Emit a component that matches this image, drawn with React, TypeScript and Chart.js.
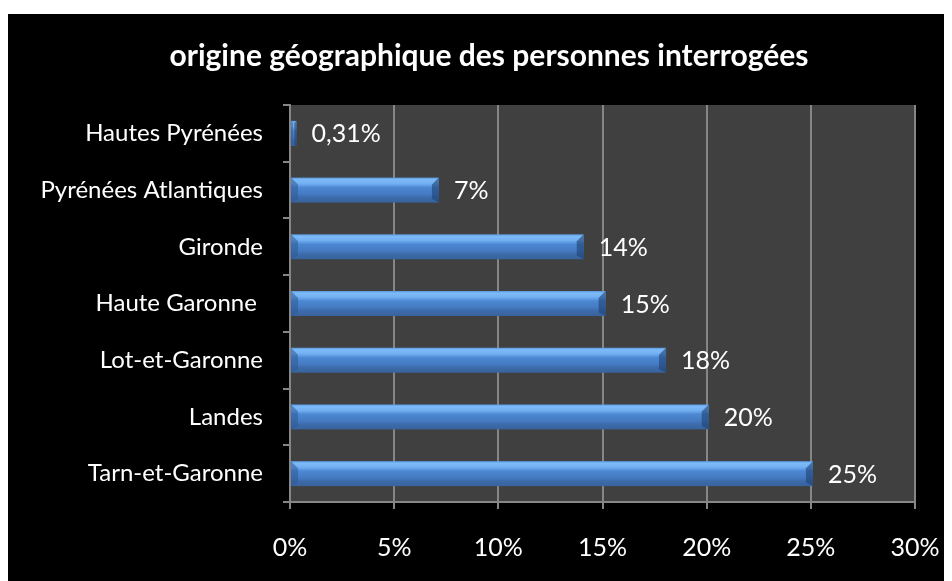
import React, { useEffect, useRef } from "react";
import { Chart, registerables } from "chart.js";

Chart.register(...registerables);

const categories = [
  "Hautes Pyrénées",
  "Pyrénées Atlantiques",
  "Gironde",
  "Haute Garonne ",
  "Lot-et-Garonne",
  "Landes",
  "Tarn-et-Garonne",
];
const values = [0.31, 7.15, 14.1, 15.15, 18.05, 20.1, 25.1];
const valueLabels = ["0,31%", "7%", "14%", "15%", "18%", "20%", "25%"];
const titleText = "origine géographique des personnes interrogées";

const FONT = "Lato, 'Open Sans', sans-serif";

const plotBg = {
  id: "plotBg",
  beforeDraw(chart: any) {
    const { ctx, chartArea } = chart;
    ctx.save();
    ctx.fillStyle = "#404040";
    ctx.fillRect(chartArea.left, chartArea.top, chartArea.right - chartArea.left, chartArea.bottom - chartArea.top);
    ctx.restore();
  },
};

const titlePlugin = {
  id: "customTitle",
  afterDraw(chart: any) {
    const { ctx } = chart;
    ctx.save();
    ctx.fillStyle = "#ffffff";
    ctx.font = `bold 30px ${FONT}`;
    ctx.textAlign = "center";
    ctx.textBaseline = "middle";
    ctx.fillText(titleText, chart.width / 2 + 9, 42);
    ctx.restore();
  },
};

const bevelBars = {
  id: "bevelBars",
  afterDatasetsDraw(chart: any) {
    const { ctx } = chart;
    const meta = chart.getDatasetMeta(0);
    ctx.save();
    meta.data.forEach((el: any, i: number) => {
      const { x, y, base, height } = el.getProps(["x", "y", "base", "height"], true);
      const top = y - height / 2;
      const w = x - base;
      const g = ctx.createLinearGradient(0, top, 0, top + height);
      g.addColorStop(0, "#5a98e0");
      g.addColorStop(0.08, "#7cbaf8");
      g.addColorStop(0.24, "#72b0f2");
      g.addColorStop(0.32, "#5f9ce4");
      g.addColorStop(0.4, "#4c88d2");
      g.addColorStop(0.68, "#4479c0");
      g.addColorStop(0.78, "#3d6cac");
      g.addColorStop(1, "#38639c");
      ctx.fillStyle = g;
      ctx.fillRect(base, top, w, height);
      const bw = Math.min(7, w * 0.4);
      ctx.fillStyle = "rgba(45,90,150,0.55)";
      ctx.beginPath();
      ctx.moveTo(base, top);
      ctx.lineTo(base + bw, top + bw);
      ctx.lineTo(base + bw, top + height - bw * 0.5);
      ctx.lineTo(base, top + height);
      ctx.closePath();
      ctx.fill();
      ctx.fillStyle = "rgba(30,65,115,0.6)";
      ctx.beginPath();
      ctx.moveTo(x - bw, top + bw);
      ctx.lineTo(x, top);
      ctx.lineTo(x, top + height);
      ctx.lineTo(x - bw, top + height - bw * 0.5);
      ctx.closePath();
      ctx.fill();

      ctx.fillStyle = "#ffffff";
      ctx.font = `25px ${FONT}`;
      ctx.textAlign = "left";
      ctx.textBaseline = "middle";
      ctx.fillText(valueLabels[i], x + 15, y + 1);
    });
    ctx.restore();
  },
};

export default function App() {
  const ref = useRef<HTMLCanvasElement>(null);
  useEffect(() => {
    if (!ref.current) return;
    const chart = new Chart(ref.current, {
      type: "bar",
      data: {
        labels: categories,
        datasets: [
          {
            data: values,
            backgroundColor: "rgba(0,0,0,0)",
            borderWidth: 0,
            categoryPercentage: 1,
            barPercentage: 0.44,
          },
        ],
      },
      plugins: [plotBg, bevelBars, titlePlugin],
      options: {
        indexAxis: "y",
        animation: false,
        responsive: false,
        devicePixelRatio: 1,
        layout: { padding: { left: 0, right: 37, top: 91, bottom: 0 } },
        plugins: {
          legend: { display: false },
          tooltip: { enabled: false },
          title: { display: false },
        },
        scales: {
          x: {
            min: 0,
            max: 30,
            ticks: {
              stepSize: 5,
              color: "#ffffff",
              font: { family: FONT, size: 25 },
              padding: 24,
              callback: (v: any) => v + "%",
            },
            grid: {
              color: "#868686",
              lineWidth: 2,
              tickLength: 7,
              drawOnChartArea: true,
            },
            border: { color: "#868686", width: 2 },
            afterFit: (s: any) => {
              s.height = 79;
              s.paddingLeft = 0;
              s.paddingRight = 0;
            },
          },
          y: {
            ticks: {
              color: "#ffffff",
              font: { family: FONT, size: 24 },
              padding: 20,
            },
            grid: {
              color: "#868686",
              lineWidth: 2,
              tickLength: 7,
              drawOnChartArea: false,
            },
            border: { color: "#868686", width: 2 },
            afterFit: (s: any) => {
              s.width = 282;
              s.paddingTop = 0;
              s.paddingBottom = 0;
            },
          },
        },
      },
    });
    return () => chart.destroy();
  }, []);
  return (
    <div style={{ paddingTop: 6 }}>
      <div style={{ width: 944, height: 567, background: "#000" }}>
        <canvas ref={ref} width={944} height={567} style={{ display: "block" }} />
      </div>
    </div>
  );
}
